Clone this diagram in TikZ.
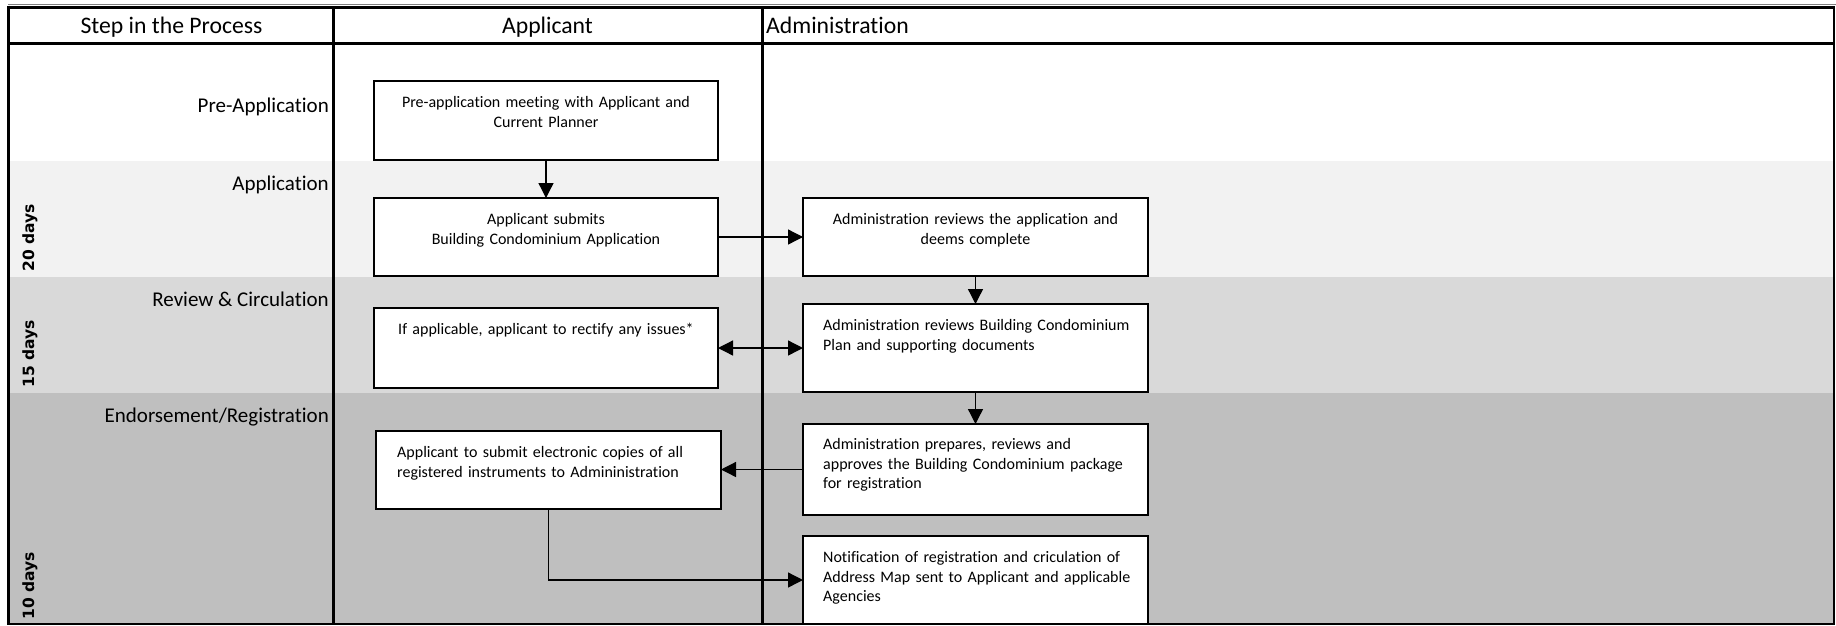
\documentclass[tikz,border=0pt]{standalone}
\usepackage{fontspec}
\setmainfont{Carlito}[Ligatures={NoCommon,NoContextual,NoRequired}]
\newfontfamily\daysfont{DejaVu Sans}
\usetikzlibrary{arrows.meta}
\definecolor{bandA}{HTML}{F2F2F2}
\definecolor{bandB}{HTML}{D9D9D9}
\definecolor{bandC}{HTML}{BFBFBF}
\tikzset{
  frameline/.style={line width=3pt, black},
  boxnode/.style={draw=black, line width=2.6pt, fill=white, inner sep=0pt, outer sep=0pt},
  btext/.style={inner sep=0pt, font=\fontsize{16}{19.6}\selectfont},
  ctext/.style={btext, text width=330pt, align=center, anchor=base},
  ltext/.style={btext, text width=322pt, align=left, anchor=base west},
  headtext/.style={inner sep=0pt, font=\fontsize{23.7}{28}\selectfont},
  steplabel/.style={inner sep=0pt, anchor=base east, font=\fontsize{21}{25}\selectfont},
  dayslabel/.style={inner sep=0pt, rotate=90, font=\daysfont\bfseries\fontsize{15.5}{18}\selectfont},
  arr/.style={line width=1.3pt, -{Triangle[length=15pt,width=15pt]}},
  dblarr/.style={line width=1.3pt, {Triangle[length=15pt,width=15pt]}-{Triangle[length=15pt,width=15pt]}}
}
\begin{document}
\begin{tikzpicture}[x=1pt,y=-1pt]
\useasboundingbox (0,0) rectangle (1836,625);
% bands
\fill[white] (8.5,43.5) rectangle (1833.5,161);
\fill[bandA] (8.5,161) rectangle (1833.5,277);
\fill[bandB] (8.5,277) rectangle (1833.5,393);
\fill[bandC] (8.5,393) rectangle (1833.5,623.5);
% frame
\draw[gray, line width=1pt] (8,4) -- (1836,4);
\draw[frameline] (7,7) -- (1835,7);
\draw[frameline] (8.5,5.5) -- (8.5,625);
\draw[line width=2pt] (1834,6) -- (1834,624);
\draw[line width=2pt] (7,624) -- (1835,624);
\draw[frameline] (8.5,43.5) -- (1834,43.5);
\draw[frameline] (333.5,7) -- (333.5,624);
\draw[frameline] (762,7) -- (762,624);
% headers
\node[headtext, anchor=base] (hstep) at (171.5,33) {Step in the Process};
\node[headtext, anchor=base] (happ) at (547.5,33) {Applicant};
\node[headtext, anchor=base west] (hadm) at (766,33) {Administration};
% step labels
\node[steplabel] (lpre) at (329,112.5) {Pre-Application};
\node[steplabel] (lapp) at (329,190) {Application};
\node[steplabel] (lrev) at (329,306) {Review \& Circulation};
\node[steplabel] (lend) at (329,422) {Endorsement/Registration};
% days
\node[dayslabel] (d20) at (30,238) {20 days};
\node[dayslabel] (d15) at (30,354) {15 days};
\node[dayslabel] (d10) at (30,586) {10 days};
% applicant boxes
\node[boxnode, minimum width=344pt, minimum height=79pt] (pre) at (546,120.5) {};
\node[ctext] (preT) at (546,107.5) {Pre-application meeting with Applicant and\\Current Planner};
\node[boxnode, minimum width=344pt, minimum height=78pt] (sub) at (546,237) {};
\node[ctext] (subT) at (546,224.5) {Applicant submits\\Building Condominium Application};
\node[boxnode, minimum width=344pt, minimum height=80pt] (rect) at (546,348) {};
\node[ctext] (rectT) at (546,334.5) {If applicable, applicant to rectify any issues*};
\node[boxnode, minimum width=345pt, minimum height=78pt] (elec) at (548.5,470) {};
\node[ltext] (elecT) at (397,457.5) {Applicant to submit electronic copies of all\\registered instruments to Admininistration};
% administration boxes
\node[boxnode, minimum width=345pt, minimum height=78pt] (a1) at (975.5,237) {};
\node[ctext] (a1T) at (975.5,224.5) {Administration reviews the application and\\deems complete};
\node[boxnode, minimum width=345pt, minimum height=88pt] (a2) at (975.5,348) {};
\node[ltext] (a2T) at (823,330.5) {Administration reviews Building Condominium\\Plan and supporting documents};
\node[boxnode, minimum width=345pt, minimum height=91pt] (a3) at (975.5,469.5) {};
\node[ltext] (a3T) at (823,449.5) {Administration prepares, reviews and\\approves the Building Condominium package\\for registration};
\node[boxnode, minimum width=345pt, minimum height=88pt] (a4) at (975.5,580) {};
\node[ltext] (a4T) at (823,562.5) {Notification of registration and criculation of\\Address Map sent to Applicant and applicable\\Agencies};
% connectors
\draw[arr] (pre.south) -- (sub.north);
\draw[arr] (sub.east) -- (a1.west);
\draw[dblarr] (rect.east) -- (a2.west);
\draw[arr] (a1.south) -- (a2.north);
\draw[arr] (a2.south) -- (a3.north);
\draw[arr] (a3.west) -- (a3.west -| elec.east);
\draw[arr] (elec.south) |- (a4.west);
% redraw bottom frame over last box
\draw[line width=2pt] (7,624) -- (1835,624);
\end{tikzpicture}
\end{document}
